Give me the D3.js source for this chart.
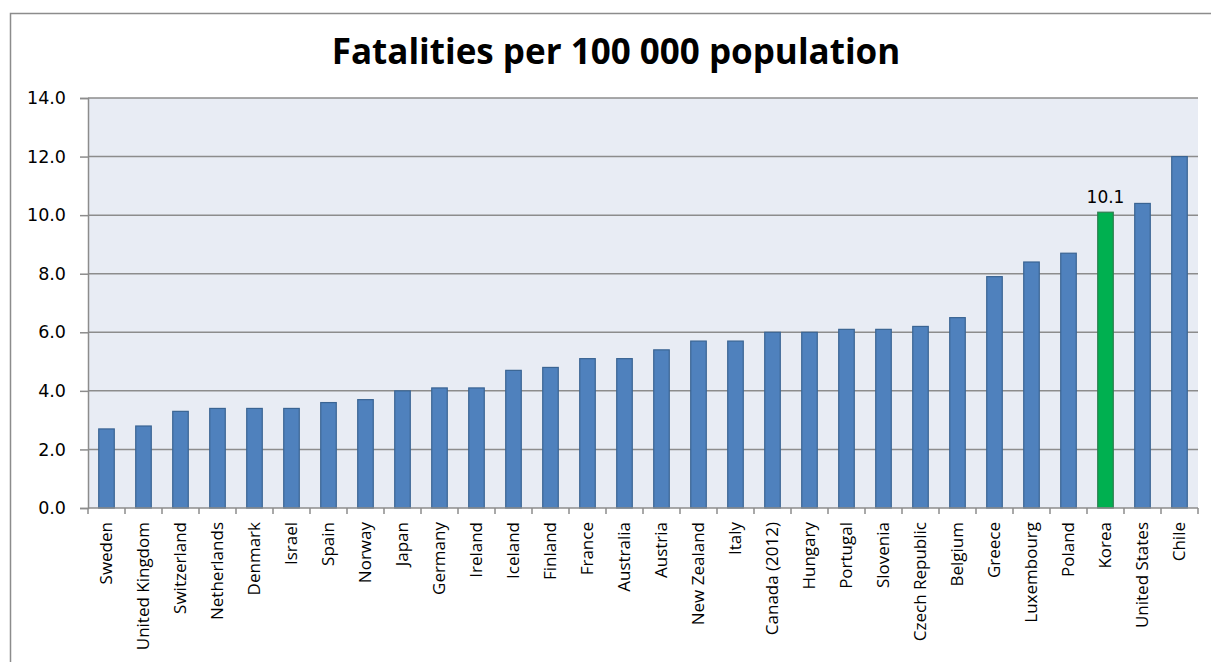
<!DOCTYPE html>
<html>
<head>
<meta charset="utf-8">
<script src="https://cdn.jsdelivr.net/npm/d3@7"></script>
<style>
  html, body { margin: 0; padding: 0; background: #fff; }
  svg { display: block; }
</style>
</head>
<body>
<svg id="chart" width="1211" height="662"></svg>
<script>
// Road fatalities per 100 000 population, by country
const countries = [
  "Sweden", "United Kingdom", "Switzerland", "Netherlands", "Denmark", "Israel",
  "Spain", "Norway", "Japan", "Germany", "Ireland", "Iceland", "Finland", "France",
  "Australia", "Austria", "New Zealand", "Italy", "Canada (2012)", "Hungary",
  "Portugal", "Slovenia", "Czech Republic", "Belgium", "Greece", "Luxembourg",
  "Poland", "Korea", "United States", "Chile"
];
const fatalities = [
  2.7, 2.8, 3.3, 3.4, 3.4, 3.4,
  3.6, 3.7, 4.0, 4.1, 4.1, 4.7, 4.8, 5.1,
  5.1, 5.4, 5.7, 5.7, 6.0, 6.0,
  6.1, 6.1, 6.2, 6.5, 7.9, 8.4,
  8.7, 10.1, 10.4, 12.0
];
const yTicks = [0, 2, 4, 6, 8, 10, 12, 14];
const highlighted = ["Korea"];
const chartTitle = "Fatalities per 100 000 population";

const svg = d3.select("#chart");
const plot = { left: 88, right: 1198, top: 98, bottom: 508 };

// outer frame
svg.append("rect")
  .attr("x", 10.5).attr("y", 13.5)
  .attr("width", 1230).attr("height", 700)
  .attr("fill", "#fff")
  .attr("stroke", "#8c8c8c").attr("stroke-width", 1.5);

const x = d3.scaleBand()
  .domain(countries)
  .range([plot.left, plot.right])
  .paddingInner(0.58).paddingOuter(0.29);

const band = d3.scaleBand().domain(countries).range([plot.left, plot.right]);

const y = d3.scaleLinear().domain([0, 14]).range([plot.bottom, plot.top]);

// plot background
svg.append("rect")
  .attr("x", plot.left).attr("y", plot.top)
  .attr("width", plot.right - plot.left).attr("height", plot.bottom - plot.top)
  .attr("fill", "#e8ecf4");

// gridlines + y axis
const yAxis = d3.axisLeft(y)
  .tickValues(yTicks)
  .tickFormat(d3.format(".1f"))
  .tickSize(8)
  .tickPadding(14);

const gy = svg.append("g")
  .attr("transform", `translate(${plot.left},0)`)
  .call(yAxis);
gy.select(".domain").attr("stroke", "#8c8c8c").attr("stroke-width", 1.5);
gy.selectAll(".tick line").attr("stroke", "#8c8c8c").attr("stroke-width", 1.5);
gy.selectAll(".tick text")
  .attr("font-family", "DejaVu Sans")
  .attr("font-size", 17.5)
  .attr("fill", "#000");

svg.append("g")
  .selectAll("line")
  .data(yTicks.filter(d => d > 0))
  .join("line")
  .attr("x1", plot.left).attr("x2", plot.right)
  .attr("y1", d => y(d)).attr("y2", d => y(d))
  .attr("stroke", "#8c8c8c").attr("stroke-width", 1.5);

// bars
const rows = countries.map((c, i) => ({ country: c, value: fatalities[i] }));
svg.append("g")
  .selectAll("rect")
  .data(rows)
  .join("rect")
  .attr("x", d => x(d.country))
  .attr("y", d => y(d.value))
  .attr("width", x.bandwidth())
  .attr("height", d => y(0) - y(d.value))
  .attr("fill", d => highlighted.includes(d.country) ? "#00b050" : "#4f81bd")
  .attr("stroke", d => highlighted.includes(d.country) ? "#2e7d4f" : "#3a6493")
  .attr("stroke-width", 1.2);

// x axis with ticks at category boundaries
const gx = svg.append("g").attr("transform", `translate(0,${plot.bottom})`);
gx.append("line")
  .attr("x1", plot.left).attr("x2", plot.right)
  .attr("stroke", "#8c8c8c").attr("stroke-width", 1.5);
const boundaries = countries.map(c => band(c)).concat([plot.right]);
gx.selectAll("line.tk")
  .data(boundaries)
  .join("line")
  .attr("class", "tk")
  .attr("x1", d => d).attr("x2", d => d)
  .attr("y1", 0).attr("y2", 6)
  .attr("stroke", "#8c8c8c").attr("stroke-width", 1.5);

gx.selectAll("text")
  .data(countries)
  .join("text")
  .attr("transform", d => `translate(${band(d) + band.bandwidth() / 2},14) rotate(-90)`)
  .attr("text-anchor", "end")
  .attr("dy", "0.35em")
  .attr("font-family", "Open Sans")
  .attr("font-size", 17)
  .attr("fill", "#000")
  .text(d => d);

// value label for the highlighted bar
svg.append("g")
  .selectAll("text")
  .data(rows.filter(d => highlighted.includes(d.country)))
  .join("text")
  .attr("x", d => x(d.country) + x.bandwidth() / 2)
  .attr("y", d => y(d.value) - 9)
  .attr("text-anchor", "middle")
  .attr("font-family", "DejaVu Sans")
  .attr("font-size", 17)
  .attr("fill", "#000")
  .text(d => d3.format(".1f")(d.value));

// title
svg.append("text")
  .attr("x", 616).attr("y", 64)
  .attr("text-anchor", "middle")
  .attr("font-family", "Open Sans")
  .attr("font-weight", "bold")
  .attr("font-size", 35)
  .attr("fill", "#000")
  .text(chartTitle);
</script>
</body>
</html>
